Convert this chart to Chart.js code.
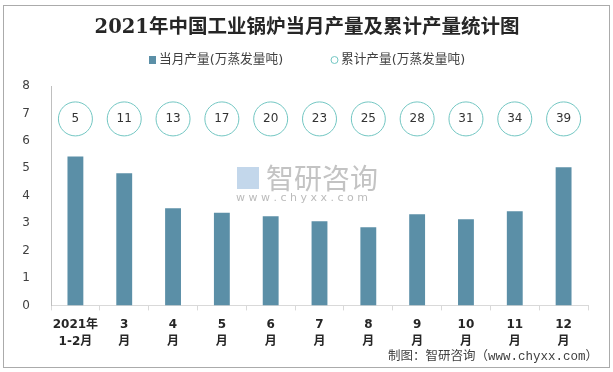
<!DOCTYPE html>
<html>
<head>
<meta charset="utf-8">
<script src="https://cdn.jsdelivr.net/npm/chart.js@4.4.0/dist/chart.umd.min.js"></script>
<style>
  html, body { margin: 0; padding: 0; background: #fff; }
  #wrap { position: relative; width: 613px; height: 372px; }
  #frame { position: absolute; left: 3px; top: 5px; width: 605px; height: 361px; border: 1px solid #ababab; pointer-events: none; }
</style>
</head>
<body>
<div id="wrap">
  <canvas id="grafico" width="613" height="372"></canvas>
  <div id="frame"></div>
</div>
<script>
const titulo = '2021年中国工业锅炉当月产量及累计产量统计图';
const meses = [['2021年', '1-2月'], ['3', '月'], ['4', '月'], ['5', '月'], ['6', '月'], ['7', '月'], ['8', '月'], ['9', '月'], ['10', '月'], ['11', '月'], ['12', '月']];
const producaoMes = [5.43, 4.82, 3.54, 3.38, 3.25, 3.07, 2.85, 3.32, 3.14, 3.43, 5.04];
const acumulado = [5, 11, 13, 17, 20, 23, 25, 28, 31, 34, 39];
// linha auxiliar onde ficam os círculos do acumulado
const nivelCirculos = [6.8, 6.8, 6.8, 6.8, 6.8, 6.8, 6.8, 6.8, 6.8, 6.8, 6.8];
const ticksY = [0, 1, 2, 3, 4, 5, 6, 7, 8];

const fonteBase = '"DejaVu Sans", "Noto Sans CJK SC", sans-serif';
const corBarra = '#5b8fa7';
const corCirculo = '#72c6c2';

// título, legenda, rótulos dos círculos, marca d'água e fonte
const extras = {
  id: 'extras',
  beforeDatasetsDraw(chart) {
    const c = chart.ctx;
    c.save();
    c.fillStyle = 'rgba(180,180,180,0.8)';
    c.font = '28px "Noto Sans CJK SC"';
    c.textAlign = 'left';
    c.textBaseline = 'middle';
    c.fillText('智研咨询', 266, 178);
    c.font = '11px "DejaVu Sans"';
    c.fillStyle = 'rgba(170,170,170,0.8)';
    c.fillText('w w w . c h y x x . c o m', 236, 198);
    c.fillStyle = 'rgba(180,205,230,0.8)';
    c.fillRect(237, 167, 22, 22);
    c.restore();
  },
  afterDatasetsDraw(chart) {
    const c = chart.ctx;
    const ds = chart.data.datasets;
    const meta = chart.getDatasetMeta(1);
    c.save();
    c.textBaseline = 'middle';

    // título
    c.textAlign = 'center';
    c.fillStyle = '#262626';
    c.font = 'bold 19.5px "DejaVu Serif", "Noto Sans CJK SC", serif';
    c.fillText(titulo, 307, 28);

    // valores acumulados
    c.fillStyle = '#333';
    c.font = '12px ' + fonteBase;
    meta.data.forEach((p, i) => {
      c.fillText(String(acumulado[i]), p.x, p.y);
    });

    // legenda
    c.textAlign = 'left';
    c.font = '12.7px ' + fonteBase;
    c.fillStyle = corBarra;
    c.fillRect(149, 56, 7, 8);
    c.fillStyle = '#404040';
    c.fillText(ds[0].label, 159, 60);
    c.beginPath();
    c.arc(334.5, 60, 3.5, 0, Math.PI * 2);
    c.strokeStyle = corCirculo;
    c.lineWidth = 1;
    c.stroke();
    c.fillText(ds[1].label, 341, 60);

    // fonte
    c.font = '12.5px "Liberation Mono", "Noto Sans CJK SC"';
    c.textAlign = 'right';
    c.fillText('制图：智研咨询（www.chyxx.com）', 598, 357);
    c.restore();
  }
};

const ctx = document.getElementById('grafico').getContext('2d');
new Chart(ctx, {
  type: 'bar',
  data: {
    labels: meses,
    datasets: [{
      label: '当月产量(万蒸发量吨)',
      data: producaoMes,
      backgroundColor: corBarra,
      borderWidth: 0,
      barPercentage: 0.65,
      categoryPercentage: 0.5,
      order: 2
    }, {
      type: 'line',
      label: '累计产量(万蒸发量吨)',
      data: nivelCirculos,
      showLine: false,
      backgroundColor: '#fff',
      borderColor: corCirculo,
      borderWidth: 1,
      pointRadius: 17,
      pointHoverRadius: 17,
      pointBackgroundColor: '#fff',
      pointBorderColor: corCirculo,
      pointBorderWidth: 1,
      order: 1
    }]
  },
  options: {
    responsive: false,
    animation: false,
    layout: { padding: { left: 0, right: 25, top: 86, bottom: 16 } },
    plugins: {
      legend: { display: false },
      tooltip: { enabled: false }
    },
    scales: {
      x: {
        grid: { display: true, offset: true, drawOnChartArea: false, drawTicks: true, tickLength: 5, color: '#d9d9d9' },
        border: { color: '#d9d9d9' },
        ticks: { color: '#262626', font: { family: fonteBase, size: 12, weight: 'bold', lineHeight: 1.4 }, maxRotation: 0, autoSkip: false, padding: 6 }
      },
      y: {
        min: 0,
        max: 8,
        afterBuildTicks: axis => { axis.ticks = ticksY.map(v => ({ value: v })); },
        afterFit: axis => { axis.width = 51; },
        grid: { display: false },
        border: { color: '#bfbfbf' },
        ticks: { color: '#404040', font: { family: fonteBase, size: 12 }, padding: 13 }
      }
    }
  },
  plugins: [extras]
});
</script>
</body>
</html>
